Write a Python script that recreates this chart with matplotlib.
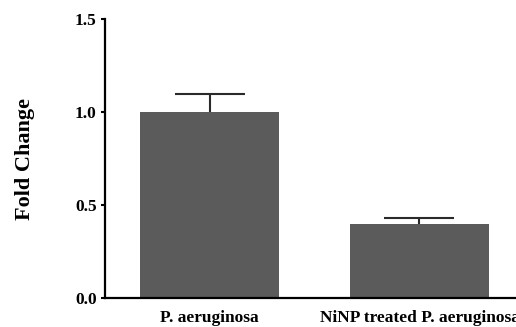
import matplotlib
matplotlib.use('Agg')
import matplotlib.pyplot as plt

groups = ['P. aeruginosa', 'NiNP treated P. aeruginosa']
fold_change = [1.0, 0.40]
errors = [0.10, 0.03]
y_ticks = [0.0, 0.5, 1.0, 1.5]

plt.rcParams['font.family'] = 'Liberation Serif'
plt.rcParams['font.weight'] = 'bold'

fig = plt.figure(figsize=(5.16, 3.27), dpi=100)
ax = fig.add_axes([0.2035, 0.0887, 0.7965, 0.8523])

x = list(range(len(groups)))
ax.bar(x, fold_change, width=0.662, color='#5b5b5b', zorder=2)
# error bars sit behind the bars so only the upper half shows
ax.errorbar(x, fold_change, yerr=errors, fmt='none',
            ecolor='#2a2a2a', elinewidth=1.5, capsize=25, capthick=1.5, zorder=1)

ax.set_xlim(-0.498, 1.46)
ax.set_ylim(0, 1.5)
ax.set_yticks(y_ticks)
ax.set_yticklabels([f'{v:.1f}' for v in y_ticks], fontsize=12.5, fontweight='bold')
ax.set_xticks(x)
ax.set_xticklabels(groups, fontsize=12.5, fontweight='bold')
ax.tick_params(axis='x', length=0, pad=9)
ax.tick_params(axis='y', length=3, width=1.5, pad=3)
ax.set_ylabel('Fold Change', fontsize=16, fontweight='bold')
ax.yaxis.set_label_coords(-0.17, 0.5)

for s in ['top', 'right']:
    ax.spines[s].set_visible(False)
for s in ['left', 'bottom']:
    ax.spines[s].set_linewidth(1.6)

fig.savefig('out.png', dpi=100)
